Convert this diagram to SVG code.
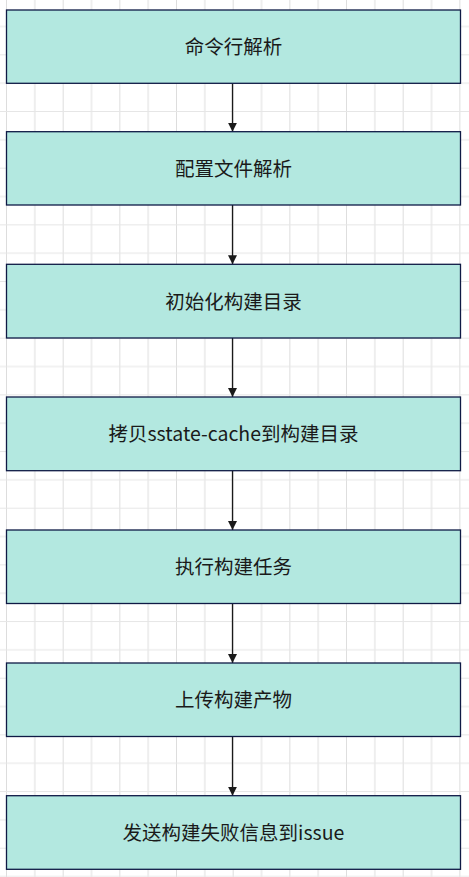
<svg xmlns="http://www.w3.org/2000/svg" width="469" height="877" viewBox="0 0 469 877">
<style>
.box{fill:#b3e8e0;stroke:#0f1a45;stroke-width:1.3}
.lbl{font-family:"Noto Sans CJK SC","Noto Sans",sans-serif;font-size:19.5px;fill:#1a1a1a;text-anchor:middle}
.edge{stroke:#1a1a1a;stroke-width:1.3;fill:none}
</style>
<defs>
<pattern id="grid" x="6" y="-2.33" width="56.67" height="56.67" patternUnits="userSpaceOnUse">
<path d="M0 0V56.67M28.33 0V56.67" stroke="#dddddd" stroke-width="1" transform="translate(0.5 0)"/>
<path d="M0 0H56.67M0 28.33H56.67" stroke="#e6e6e6" stroke-width="1" transform="translate(0 0.5)"/>
</pattern>
<marker id="arr" viewBox="0 0 10 10" refX="10" refY="5" markerWidth="9" markerHeight="9" markerUnits="userSpaceOnUse" orient="auto">
<path d="M0 0L10 5L0 10Z" fill="#1a1a1a"/>
</marker>
</defs>
<rect width="469" height="877" fill="#ffffff"/>
<rect width="469" height="877" fill="url(#grid)"/>
<g id="connectors">
<line class="edge" x1="232.5" y1="83.3" x2="232.5" y2="131.7" marker-end="url(#arr)"/>
<line class="edge" x1="232.5" y1="205" x2="232.5" y2="264.3" marker-end="url(#arr)"/>
<line class="edge" x1="232.5" y1="338" x2="232.5" y2="397" marker-end="url(#arr)"/>
<line class="edge" x1="232.5" y1="470.7" x2="232.5" y2="530" marker-end="url(#arr)"/>
<line class="edge" x1="232.5" y1="603.5" x2="232.5" y2="663" marker-end="url(#arr)"/>
<line class="edge" x1="232.5" y1="736.5" x2="232.5" y2="795.7" marker-end="url(#arr)"/>
</g>
<g id="n1"><rect class="box" x="6.5" y="10" width="454" height="73.3"/><text class="lbl" x="233.5" y="54">命令行解析</text></g>
<g id="n2"><rect class="box" x="6.5" y="131.7" width="454" height="73.3"/><text class="lbl" x="233.5" y="175.7">配置文件解析</text></g>
<g id="n3"><rect class="box" x="6.5" y="264.3" width="454" height="73.7"/><text class="lbl" x="233.5" y="308.5">初始化构建目录</text></g>
<g id="n4"><rect class="box" x="6.5" y="397" width="454" height="73.7"/><text class="lbl" x="233.5" y="441">拷贝sstate-cache到构建目录</text></g>
<g id="n5"><rect class="box" x="6.5" y="530" width="454" height="73.5"/><text class="lbl" x="233.5" y="574">执行构建任务</text></g>
<g id="n6"><rect class="box" x="6.5" y="663" width="454" height="73.5"/><text class="lbl" x="233.5" y="707">上传构建产物</text></g>
<g id="n7"><rect class="box" x="6.5" y="795.7" width="454" height="73.6"/><text class="lbl" x="233.5" y="839.7">发送构建失败信息到issue</text></g>
</svg>
